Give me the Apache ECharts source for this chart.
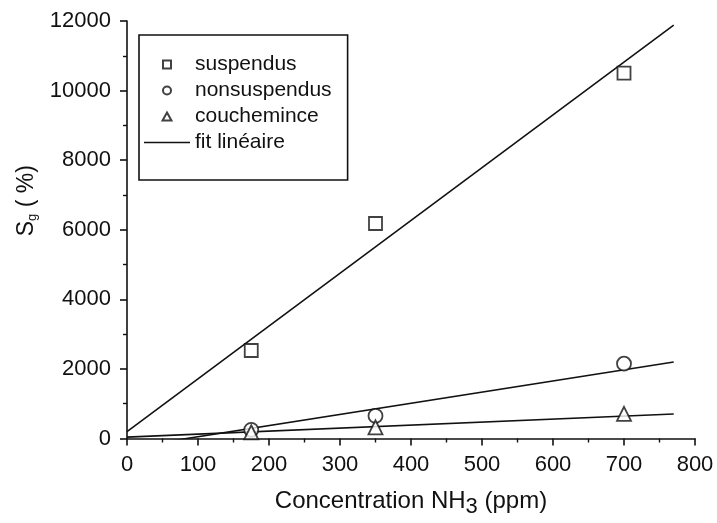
<!DOCTYPE html>
<html><head><meta charset="utf-8">
<script src="https://cdn.jsdelivr.net/npm/echarts@6/dist/echarts.min.js"></script>
<style>html,body{margin:0;padding:0;background:#fff}#c{width:717px;height:523px}</style>
</head><body><div id="c"></div>
<script>
var suspendus = [[175,2530],[350,6180],[700,10500]];
var nonsuspendus = [[175,250],[350,650],[700,2150]];
var couchemince = [[175,180],[350,320],[700,710]];
var fitSuspendus = [[0,200],[770,11880]];
var fitNonsuspendus = [[0,-270],[770,2200]];
var fitCouchemince = [[0,40],[770,705]];

var FONT = 'Liberation Sans, Arial, sans-serif';
var INK = '#111';
var chart = echarts.init(document.getElementById('c'), null, {renderer:'canvas'});
function pt(name, data, sym, size){
  return {name:name, type:'scatter', data:data, symbol:sym, symbolSize:size,
    itemStyle:{color:'#fff', borderColor:INK, borderWidth:1.8}, z:5};
}
function fit(data, name){
  return {name:name, type:'line', data:data, symbol:'none', clip:true,
    lineStyle:{color:INK, width:1.6}, itemStyle:{color:INK}, z:4};
}
chart.setOption({
  animation:false,
  backgroundColor:'#fff',
  textStyle:{fontFamily:FONT},
  grid:{left:127, right:22, top:21, bottom:82},
  legend:{
    orient:'vertical', left:139, top:35,
    padding:[19,16,27,5], itemGap:5,
    itemWidth:46, itemHeight:8,
    symbolKeepAspect:true,
    borderColor:INK, borderWidth:1.6,
    textStyle:{fontSize:21, color:INK, fontFamily:FONT, lineHeight:20},
    data:[
      {name:'suspendus', icon:'path://M0,0H10V10H0Z'},
      {name:'nonsuspendus', icon:'path://M5,0A5,5 0 1,1 5,10A5,5 0 1,1 5,0Z'},
      {name:'couchemince', icon:'path://M5,0L10,9L0,9Z'},
      {name:'fit linéaire', icon:'path://M0,0H46V1.6H0Z'}
    ]
  },
  xAxis:{
    type:'value', min:0, max:800, interval:100,
    axisLine:{lineStyle:{color:INK, width:1.6}},
    axisTick:{inside:false, length:7, lineStyle:{color:INK, width:1.6}},
    minorTick:{show:true, splitNumber:2, length:4, lineStyle:{color:INK, width:1.4}},
    splitLine:{show:false},
    axisLabel:{fontSize:22, color:INK, margin:15, fontFamily:FONT},
    name:'{a|Concentration NH}{s|3}{a| (ppm)}',
    nameLocation:'middle', nameGap:50,
    nameTextStyle:{rich:{
      a:{fontSize:24, color:INK, fontFamily:FONT, lineHeight:26},
      s:{fontSize:22, color:INK, fontFamily:FONT, padding:[11,0,0,0], lineHeight:26}
    }}
  },
  yAxis:{
    type:'value', min:0, max:12000, interval:2000,
    axisLine:{show:true, lineStyle:{color:INK, width:1.6}},
    axisTick:{show:true, inside:false, length:7, lineStyle:{color:INK, width:1.6}},
    minorTick:{show:true, splitNumber:2, length:4, lineStyle:{color:INK, width:1.4}},
    splitLine:{show:false},
    axisLabel:{fontSize:22, color:INK, margin:16, fontFamily:FONT, formatter:function(v){return String(v);}},
    name:'{a|S}{s|g}{a| ( %)}',
    nameLocation:'middle', nameGap:82, nameRotate:90,
    nameTextStyle:{padding:[0,0,0,58], rich:{
      a:{fontSize:23, color:INK, fontFamily:FONT, lineHeight:26},
      s:{fontSize:13, color:INK, fontFamily:FONT, padding:[11,0,0,0], lineHeight:26}
    }}
  },
  series:[
    pt('suspendus', suspendus, 'rect', 13),
    pt('nonsuspendus', nonsuspendus, 'circle', 14),
    pt('couchemince', couchemince, 'triangle', 14),
    fit(fitSuspendus, 'fit linéaire'),
    fit(fitNonsuspendus, 'fit linéaire'),
    fit(fitCouchemince, 'fit linéaire')
  ]
});
</script></body></html>
